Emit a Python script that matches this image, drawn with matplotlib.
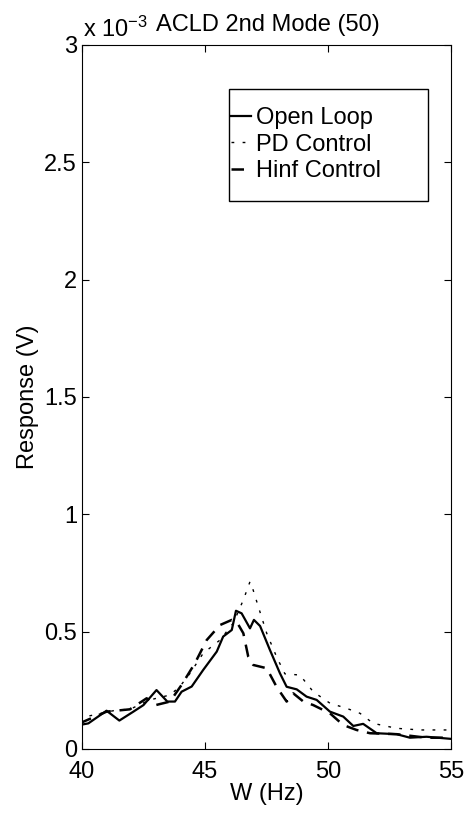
import matplotlib
matplotlib.use('Agg')
import matplotlib.pyplot as plt
from matplotlib.patches import Rectangle

plt.rcParams['font.family'] = ['Liberation Sans', 'DejaVu Sans']
plt.rcParams['mathtext.fontset'] = 'custom'
plt.rcParams['mathtext.rm'] = 'Liberation Sans'
plt.rcParams['mathtext.default'] = 'regular'

# response values in units of 1e-3 V
open_x = [39.9, 40.26, 41.0, 41.52, 42.09, 42.5, 43.03, 43.47, 43.78, 44.05, 44.46, 44.93,
          45.48, 45.74, 46.09, 46.26, 46.49, 46.83, 46.99, 47.24, 47.64, 48.05, 48.32, 48.73,
          49.13, 49.54, 50.08, 50.62, 51.03, 51.43, 51.98, 52.79, 53.33, 54.01, 55.0]
open_y = [0.102, 0.109, 0.163, 0.121, 0.159, 0.187, 0.251, 0.202, 0.202, 0.244, 0.266, 0.337,
          0.415, 0.479, 0.507, 0.589, 0.578, 0.514, 0.550, 0.524, 0.422, 0.322, 0.265, 0.254,
          0.223, 0.209, 0.159, 0.138, 0.098, 0.107, 0.067, 0.063, 0.048, 0.052, 0.043]

pd_x = [39.9, 40.26, 41.41, 41.95, 42.76, 43.58, 43.98, 44.39, 44.93, 45.61, 46.15, 46.56,
        46.83, 46.96, 47.17, 47.51, 47.91, 48.25, 48.86, 49.40, 50.08, 50.76, 51.30, 51.84,
        52.79, 53.74, 55.0]
pd_y = [0.12, 0.14, 0.166, 0.169, 0.209, 0.230, 0.266, 0.322, 0.408, 0.464, 0.536, 0.635,
        0.713, 0.677, 0.606, 0.493, 0.393, 0.320, 0.315, 0.244, 0.195, 0.173, 0.152, 0.109,
        0.088, 0.081, 0.081]

hinf_x = [39.9, 41.0, 41.95, 42.63, 43.0, 43.58, 44.05, 44.59, 45.07, 45.61, 46.09, 46.3,
          46.56, 46.76, 46.96, 47.51, 47.91, 48.32, 48.59, 49.0, 49.40, 50.08, 50.62, 51.16,
          51.71, 52.79, 54.0, 55.0]
hinf_y = [0.109, 0.159, 0.169, 0.216, 0.187, 0.202, 0.273, 0.365, 0.464, 0.528, 0.550, 0.54,
          0.493, 0.393, 0.358, 0.344, 0.265, 0.202, 0.237, 0.202, 0.187, 0.152, 0.102, 0.081,
          0.067, 0.063, 0.048, 0.048]

fs = 17

fig = plt.figure(figsize=(4.71, 8.18), dpi=100)
ax = fig.add_axes([0.174, 0.0844, 0.7835, 0.8606])

ax.plot(open_x, open_y, color='black', lw=1.6, label='Open Loop')
ax.plot(pd_x, pd_y, color='black', lw=1.0, ls=(0, (2, 6)), label='PD Control')
ax.plot(hinf_x, hinf_y, color='black', lw=1.8, ls=(0, (5, 3.5)), label='Hinf Control')

ax.set_xlim(40, 55)
ax.set_ylim(0, 3)
ax.set_xticks([40, 45, 50, 55])
ax.set_yticks([0, 0.5, 1, 1.5, 2, 2.5, 3])
ax.set_yticklabels(['0', '0.5', '1', '1.5', '2', '2.5', '3'])
ax.tick_params(direction='in', top=True, right=True, labelsize=fs, length=5, width=0.8)
ax.tick_params(axis='x', pad=8.5)
for s in ax.spines.values():
    s.set_linewidth(0.8)

ax.set_xlabel('W (Hz)', fontsize=fs, labelpad=0)
ax.set_ylabel('Response (V)', fontsize=fs, labelpad=4)
ax.set_title('ACLD 2nd Mode (50)', fontsize=fs, pad=10, x=0.505)
ax.text(0.003, 1.012, r'x 10$^{-3}$', transform=ax.transAxes, fontsize=fs,
        ha='left', va='baseline')

# matlab-style legend box, wider than its contents
ax.add_patch(Rectangle((0.398, 0.778), 0.54, 0.1595, transform=ax.transAxes,
                       fill=True, facecolor='white', edgecolor='black', lw=1.0, zorder=4))
leg = ax.legend(loc='upper left', bbox_to_anchor=(0.405, 0.912), fontsize=fs,
                handlelength=0.85, handletextpad=0.2, borderpad=0, labelspacing=0.2,
                frameon=False, borderaxespad=0)
leg.set_zorder(5)

fig.savefig('out.png', dpi=100)
